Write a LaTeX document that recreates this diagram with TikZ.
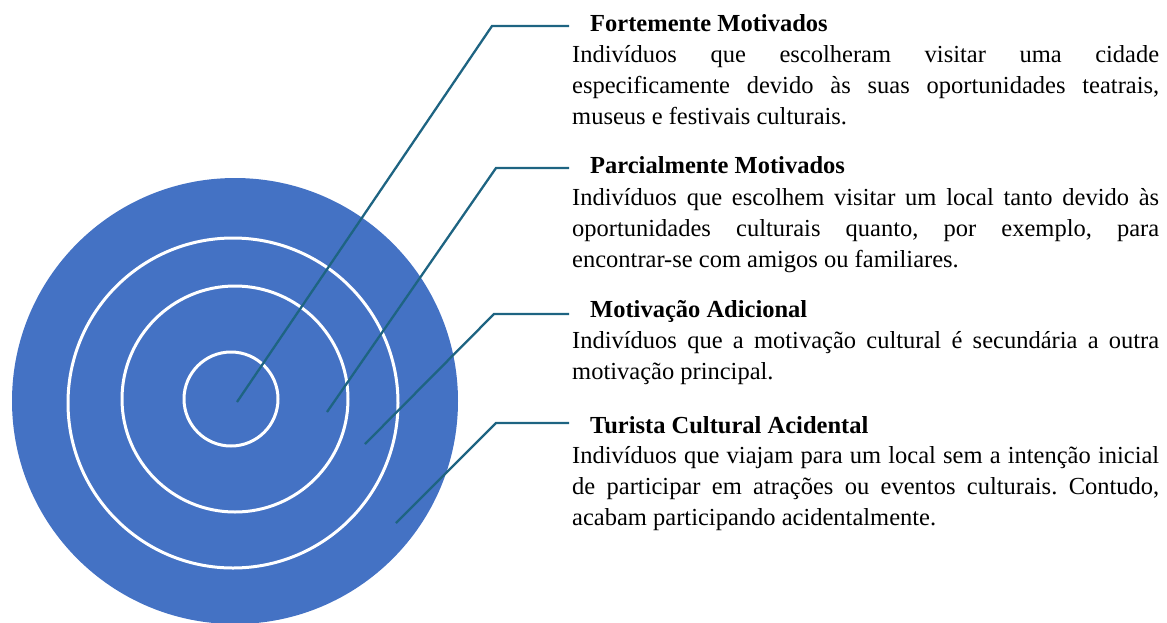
\documentclass[tikz,border=0pt]{standalone}
\usepackage{fontspec}
\setmainfont{Liberation Serif}
\usepackage{tikz}

\definecolor{targetblue}{RGB}{68,114,196}
\definecolor{leadercol}{RGB}{30,100,130}
\tolerance=10000
\hyphenpenalty=10000
\frenchspacing

\begin{document}
\begin{tikzpicture}[
		x=1pt, y=-1pt,
		leader/.style={draw=leadercol, line width=2.3pt},
		ring/.style={draw=white, line width=3pt},
		heading/.style={anchor=base west, inner xsep=21pt, inner ysep=0pt,
			font=\fontsize{24.5}{31}\selectfont\bfseries},
		body/.style={anchor=base west, inner sep=0pt, text width=587pt, align=justify,
			font=\fontsize{24.5}{31}\selectfont}
	]
  \useasboundingbox (0,0) rectangle (1167,622);
  % target
  \fill[targetblue] (235,401) circle[radius=223];
  \draw[ring] (233,403) circle[radius=165];
  \draw[ring] (235,399) circle[radius=113];
  \draw[ring] (231,399) circle[radius=47];
  % end points inside the target
  \coordinate (p1) at (237,402);
  \coordinate (p2) at (327,412);
  \coordinate (p3) at (365,444);
  \coordinate (p4) at (396,523);
  \coordinate (k1) at (492,26);
  \coordinate (k2) at (496,168);
  \coordinate (k3) at (494,314);
  \coordinate (k4) at (496,423);
  % texts
  \node (h1) [heading] at (569,31) {Fortemente Motivados};
  \node (b1) [body] at (572,62) {Indivíduos que escolheram visitar uma cidade\linebreak especificamente devido às suas oportunidades teatrais,\linebreak museus e festivais culturais.};
  \node (h2) [heading] at (569,173) {Parcialmente Motivados};
  \node (b2) [body] at (572,205) {Indivíduos que escolhem visitar um local tanto devido às\linebreak oportunidades culturais quanto, por exemplo, para\linebreak encontrar-se com amigos ou familiares.};
  \node (h3) [heading] at (569,317) {Motivação Adicional};
  \node (b3) [body] at (572,348) {Indivíduos que a motivação cultural é secundária a outra\linebreak motivação principal.};
  \node (h4) [heading] at (569,433) {Turista Cultural Acidental};
  \node (b4) [body] at (572,463) {Indivíduos que viajam para um local sem a intenção inicial\linebreak de participar em atrações ou eventos culturais. Contudo,\linebreak acabam participando acidentalmente.};
  % leaders
  \draw[leader] (p1) -- (k1) -- (k1 -| h1.west);
  \draw[leader] (p2) -- (k2) -- (k2 -| h2.west);
  \draw[leader] (p3) -- (k3) -- (k3 -| h3.west);
  \draw[leader] (p4) -- (k4) -- (k4 -| h4.west);
\end{tikzpicture}
\end{document}
